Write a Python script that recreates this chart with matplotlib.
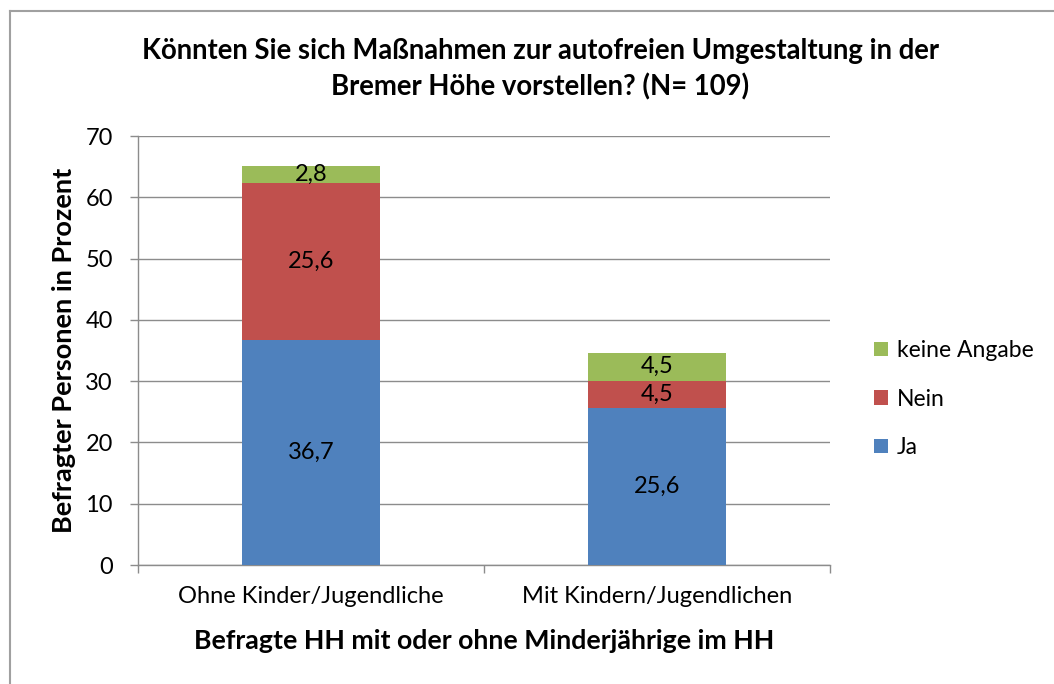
import matplotlib
matplotlib.use("Agg")
import matplotlib.pyplot as plt
from matplotlib.lines import Line2D
from matplotlib.patches import Patch

plt.rcParams['font.family'] = ['Lato', 'DejaVu Sans']

categories = ["Ohne Kinder/Jugendliche", "Mit Kindern/Jugendlichen"]
series_names = ["Ja", "Nein", "keine Angabe"]
ja = [36.7, 25.6]
nein = [25.6, 4.5]
keine = [2.8, 4.5]
colors = ["#4F81BD", "#C0504D", "#9BBB59"]
yticks = [0, 10, 20, 30, 40, 50, 60, 70]

fig = plt.figure(figsize=(10.54, 6.84), dpi=100)
ax = fig.add_axes([138/1054, 1-565/684, (830-138)/1054, (565-136)/684])

x = list(range(len(categories)))
bottom = [0.0]*len(categories)
for vals, name, col in zip([ja, nein, keine], series_names, colors):
    ax.bar(x, vals, width=0.4, bottom=bottom, color=col, label=name, zorder=3)
    for xi, v, b in zip(x, vals, bottom):
        ax.text(xi, b + v/2, f"{v:.1f}".replace(".", ","), ha="center", va="center",
                fontsize=17, color="black", zorder=4)
    bottom = [b + v for b, v in zip(bottom, vals)]

ax.set_xlim(-0.5, 1.5)
ax.set_ylim(0, 70)
ax.set_yticks(yticks)
ax.set_yticklabels([str(t) for t in yticks], fontsize=17)
ax.yaxis.grid(True, color="#8C8C8C", linewidth=1.0, zorder=0)
ax.set_axisbelow(True)

ax.set_xticks([-0.5, 0.5, 1.5])
ax.set_xticklabels([])
ax.set_xticks(x, minor=True)
ax.set_xticklabels(categories, minor=True, fontsize=17)
ax.tick_params(axis="x", which="minor", length=0, pad=15)
ax.tick_params(axis="x", which="major", length=6, color="#8C8C8C", width=1.0)
ax.tick_params(axis="y", length=6, color="#8C8C8C", width=1.0, pad=12)

for s in ["top", "right"]:
    ax.spines[s].set_visible(False)
for s in ["left", "bottom"]:
    ax.spines[s].set_color("#8C8C8C")
    ax.spines[s].set_linewidth(1.0)

ax.set_ylabel("Befragter Personen in Prozent", fontsize=19.5, fontweight="bold", labelpad=7)
fig.text(484/1054, 1-641/684, "Befragte HH mit oder ohne Minderjährige im HH",
         ha="center", va="center", fontsize=19.3, fontweight="bold")

fig.text(540/1054, 1-69/684,
         "Könnten Sie sich Maßnahmen zur autofreien Umgestaltung in der\nBremer Höhe vorstellen? (N= 109)",
         ha="center", va="center", fontsize=19.8, fontweight="bold", linespacing=1.42)

handles = [Patch(facecolor=c, edgecolor="none") for c in colors]
fig.legend(handles[::-1], series_names[::-1], loc="center left",
           bbox_to_anchor=(874/1054, 1-399/684), frameon=False, fontsize=16.5,
           borderpad=0, borderaxespad=0,
           handlelength=0.6, handleheight=0.6, handletextpad=0.4, labelspacing=1.2)

# outer chart border (left and top)
fig.add_artist(Line2D([9.5/1054, 9.5/1054], [0, 1-11/684], color="#A0A0A0", linewidth=1.5,
                      transform=fig.transFigure))
fig.add_artist(Line2D([9.5/1054, 1], [1-11/684, 1-11/684], color="#A0A0A0", linewidth=1.5,
                      transform=fig.transFigure))

fig.savefig("out.png", dpi=100)
